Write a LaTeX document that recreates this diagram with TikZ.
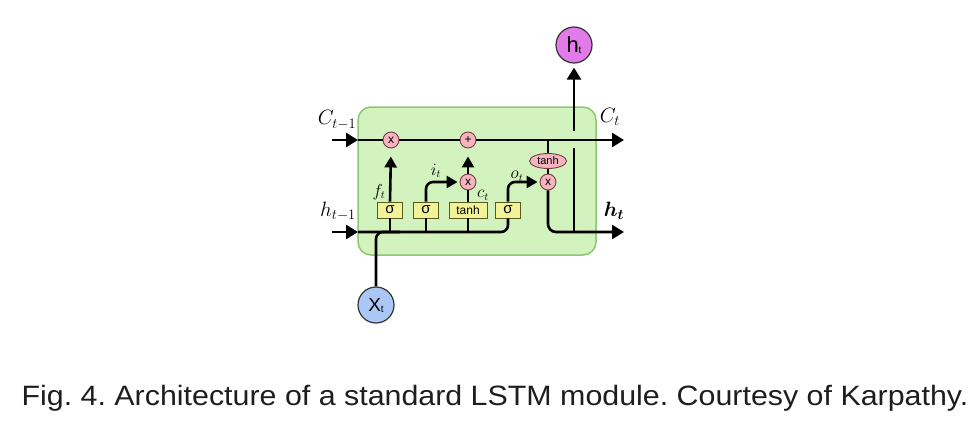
\documentclass[tikz,border=0pt]{standalone}
\usepackage{fontspec}
\setmainfont{Liberation Sans}
\usepackage{bm}
\usetikzlibrary{arrows.meta,shapes.geometric}
\definecolor{cellgreen}{RGB}{210,243,190}
\definecolor{cellborder}{RGB}{140,200,115}
\definecolor{gateyellow}{RGB}{242,242,150}
\definecolor{gateyborder}{RGB}{90,90,30}
\definecolor{oppink}{RGB}{245,180,192}
\definecolor{oppborder}{RGB}{120,60,70}
\definecolor{htviolet}{RGB}{226,122,234}
\definecolor{xtblue}{RGB}{170,200,245}
\definecolor{captext}{RGB}{30,30,30}
\tikzset{
  wire/.style={line width=2.6pt, line cap=butt},
  bigarrow/.style={wire, -{Triangle[length=12pt,width=14pt]}},
  smallarrow/.style={wire, -{Triangle[length=11pt,width=12pt]}},
  opgate/.style={circle, draw=oppborder, fill=oppink, line width=0.9pt, minimum size=16pt, inner sep=0pt, font=\fontsize{12}{12}\selectfont},
  layerbox/.style={rectangle, draw=gateyborder, fill=gateyellow, line width=0.9pt, minimum height=16pt, inner sep=0pt, font=\fontsize{15}{15}\selectfont},
  ioball/.style={circle, draw=black!80, line width=1.2pt, minimum size=36pt, inner sep=0pt},
  mlabel/.style={inner sep=0pt, font=\fontsize{20}{20}\selectfont},
  slabel/.style={inner sep=0pt, font=\fontsize{16}{16}\selectfont},
}
\begin{document}
\begin{tikzpicture}[x=1pt,y=-1pt]
\useasboundingbox (0,0) rectangle (976,436);
% cell
\node[draw=cellborder, fill=cellgreen, line width=1.5pt, rounded corners=13pt, minimum width=238pt, minimum height=148pt, inner sep=0pt] (cell) at (477,181) {};
% coordinates
\coordinate (cin) at (332,140);
\coordinate (cedge) at (358,140);
\coordinate (cout) at (624,140);
\coordinate (hin) at (332,232);
\coordinate (hedge) at (358,232);
\coordinate (hout) at (624,232);
\coordinate (hjoin) at (400,232);
\coordinate (htlow) at (574,232);
\coordinate (htgapbot) at (574,148);
\coordinate (htgaptop) at (574,131);
% gates
\node[opgate] (gf) at (391,140) {x};
\node[opgate] (gadd) at (468,140) {+};
\node[opgate] (gi) at (468,182) {x};
\node[opgate] (go) at (548,182) {x};
\node[ellipse, draw=oppborder, fill=oppink, line width=0.9pt, minimum width=37pt, minimum height=15pt, inner sep=0pt, font=\fontsize{11}{11}\selectfont] (tanhc) at (548,161) {tanh};
\node[layerbox, minimum width=25pt] (sf) at (390,210) {σ};
\node[layerbox, minimum width=25pt] (si) at (426,210) {σ};
\node[layerbox, minimum width=38pt, font=\fontsize{12}{12}\selectfont] (st) at (468,210) {tanh};
\node[layerbox, minimum width=25pt] (so) at (508,210) {σ};
\node[ioball, fill=htviolet] (ht) at (574,45) {\fontsize{22}{22}\selectfont h\raisebox{-1pt}{\fontsize{10}{10}\selectfont t}};
\node[ioball, fill=xtblue] (xt) at (376,305) {\fontsize{19}{19}\selectfont X\raisebox{-1pt}{\fontsize{10}{10}\selectfont t}};
% cell state line
\draw[bigarrow] (cin) -- (cedge);
\draw[wire] (cedge) -- (gf.west);
\draw[wire] (gf.east) -- (gadd.west);
\draw[bigarrow] (gadd.east) -- (cout);
% hidden line
\draw[bigarrow] (hin) -- (hedge);
\draw[wire, rounded corners=7pt] (hedge) -| (so.south);
\draw[wire, rounded corners=7pt] (xt.north) |- (hjoin);
\draw[wire] (sf.south) -- (sf.south |- hedge);
\draw[wire] (si.south) -- (si.south |- hedge);
\draw[wire] (st.south) -- (st.south |- hedge);
% forget
\draw[smallarrow, shorten >=8pt] (sf.north) -- (gf.south);
% input
\draw[smallarrow, rounded corners=7pt, shorten >=2pt] (si.north) |- (gi.west);
\draw[wire] (st.north) -- (gi.south);
\draw[smallarrow, shorten >=8pt] (gi.north) -- (gadd.south);
% output
\draw[smallarrow, rounded corners=7pt, shorten >=2pt] (so.north) |- (go.west);
\draw[wire] (tanhc.north) -- (tanhc.north |- cin);
\draw[wire] (tanhc.south) -- (go.north);
\draw[bigarrow, rounded corners=8pt] (go.south) |- (hout);
\draw[wire] (htlow) -- (htgapbot);
\draw[bigarrow, shorten >=4pt] (htgaptop) -- (ht.south);
% labels
\node[mlabel] (lcin) at (337,120) {$C_{t-1}$};
\node[mlabel] (lcout) at (610,117) {$C_t$};
\node[mlabel] (lhin) at (338,211) {$h_{t-1}$};
\node[mlabel, font=\fontsize{22}{22}\selectfont] (lhout) at (614,211) {$\bm{h_t}$};
\node[slabel] (lf) at (379,192) {$f_t$};
\node[slabel] (li) at (436,171) {$i_t$};
\node[slabel] (lc) at (483,195) {$c_t$};
\node[slabel] (lo) at (517,176) {$o_t$};
% caption
\node[inner sep=0pt, text=captext, font=\fontsize{28}{30}\selectfont, xscale=1.085] (cap) at (495,398) {\frenchspacing Fig. 4. Architecture of a standard LSTM module. Courtesy of Karpathy.};
\end{tikzpicture}
\end{document}
